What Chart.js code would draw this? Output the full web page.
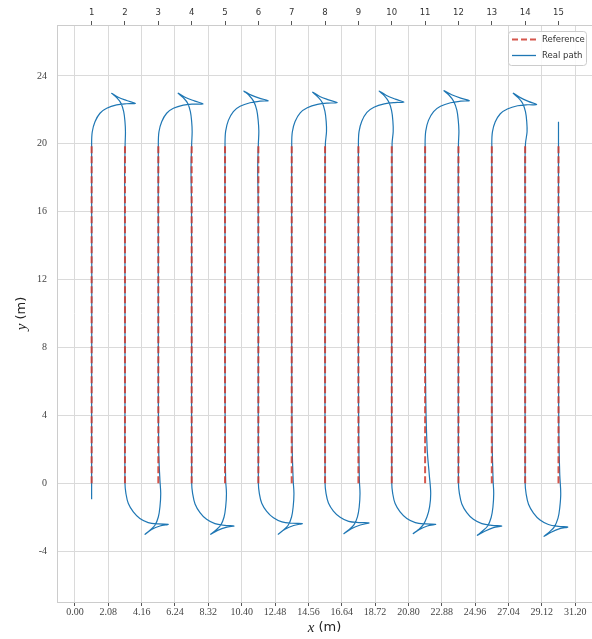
<!DOCTYPE html>
<html>
<head>
<meta charset="utf-8">
<script src="https://cdn.jsdelivr.net/npm/chart.js@4.4.1/dist/chart.umd.min.js"></script>
<style>
  html, body { margin: 0; padding: 0; background: #ffffff; }
  canvas { display: block; }
</style>
</head>
<body>
<canvas id="pathChart" width="592" height="639"></canvas>
<script>
// Row centre lines (m) and their numbers on the top axis
const rowX = [1.04, 3.12, 5.20, 7.28, 9.36, 11.44, 13.52, 15.60, 17.68, 19.76, 21.84, 23.92, 26.00, 28.08, 30.16];
const rowLabels = ['1', '2', '3', '4', '5', '6', '7', '8', '9', '10', '11', '12', '13', '14', '15'];
const refStartY = 0;
const refEndY = 20;

const xTicks = [0.00, 2.08, 4.16, 6.24, 8.32, 10.40, 12.48, 14.56, 16.64, 18.72, 20.80, 22.88, 24.96, 27.04, 29.12, 31.20];
const yTicks = [-4, 0, 4, 8, 12, 16, 20, 24];

// Driven path [x, y] in metres, one leg or headland turn per line
const realPath = [
    [1.04, -0.94], [1.04, 5], [1.05, 12], [1.04, 20],
    [1.08, 20.71], [1.25, 21.30], [1.56, 21.80], [1.98, 22.09], [2.60, 22.29], [3.22, 22.36], [3.77, 22.38],
    [3.22, 22.55], [2.70, 22.74], [2.29, 22.98],
    [2.60, 22.72], [2.87, 22.39], [3.04, 21.89], [3.12, 21.30], [3.15, 20.71], [3.13, 20.0],
    [3.10, 18.2], [3.11, 16.5], [3.12, 12], [3.12, 5], [3.12, 0],
    [3.18, -0.61], [3.33, -1.20], [3.64, -1.69], [4.05, -2.08], [4.57, -2.32], [5.20, -2.40], [5.82, -2.42],
    [5.30, -2.52], [4.78, -2.73], [4.37, -3.01],
    [4.68, -2.77], [4.99, -2.48], [5.20, -1.99], [5.30, -1.40], [5.35, -0.61], [5.30, 0.18], [5.22, 2.0], [5.20, 8],
    [5.20, 14], [5.20, 20],
    [5.24, 20.71], [5.41, 21.30], [5.72, 21.80], [6.14, 22.09], [6.76, 22.28], [7.40, 22.34], [8.00, 22.35],
    [7.44, 22.53], [6.90, 22.73], [6.44, 22.98],
    [6.75, 22.72], [7.03, 22.39], [7.20, 21.89], [7.28, 21.30], [7.31, 20.71], [7.28, 20.0],
    [7.24, 18.5], [7.27, 16.5], [7.28, 10], [7.28, 0],
    [7.34, -0.61], [7.49, -1.22], [7.80, -1.73], [8.21, -2.13], [8.73, -2.38], [9.34, -2.48], [9.92, -2.52],
    [9.42, -2.60], [8.90, -2.78], [8.47, -3.01],
    [8.78, -2.77], [9.09, -2.48], [9.30, -1.99], [9.40, -1.40], [9.45, -0.61], [9.40, 0.18], [9.37, 2.5], [9.36, 8],
    [9.36, 14], [9.36, 20],
    [9.40, 20.75], [9.57, 21.38], [9.88, 21.90], [10.30, 22.21], [10.92, 22.42], [11.54, 22.51], [12.06, 22.54],
    [11.54, 22.68], [11.00, 22.87], [10.54, 23.11],
    [10.86, 22.85], [11.15, 22.50], [11.34, 21.98], [11.43, 21.36], [11.47, 20.74], [11.44, 20.0],
    [11.40, 18.5], [11.43, 16.5], [11.44, 10], [11.44, 0],
    [11.50, -0.60], [11.65, -1.18], [11.96, -1.66], [12.38, -2.04], [12.91, -2.28], [13.55, -2.36], [14.18, -2.38],
    [13.64, -2.49], [13.10, -2.71], [12.68, -3.01],
    [12.99, -2.77], [13.30, -2.48], [13.51, -1.99], [13.61, -1.40], [13.66, -0.61], [13.61, 0.18], [13.54, 2.5], [13.52, 8],
    [13.52, 14], [13.52, 20],
    [13.56, 20.71], [13.73, 21.31], [14.05, 21.82], [14.49, 22.12], [15.13, 22.32], [15.78, 22.40], [16.36, 22.42],
    [15.82, 22.59], [15.27, 22.79], [14.83, 23.04],
    [15.14, 22.77], [15.42, 22.43], [15.59, 21.92], [15.67, 21.32], [15.69, 20.72], [15.62, 20.0],
    [15.59, 17], [15.60, 10], [15.60, 0],
    [15.66, -0.60], [15.81, -1.17], [16.12, -1.64], [16.54, -2.01], [17.07, -2.25], [17.71, -2.32], [18.34, -2.34],
    [17.80, -2.46], [17.24, -2.68], [16.78, -2.97],
    [17.09, -2.74], [17.40, -2.46], [17.62, -1.98], [17.73, -1.40], [17.78, -0.61], [17.74, 0.18], [17.70, 2.5], [17.68, 8],
    [17.68, 14], [17.68, 20],
    [17.72, 20.72], [17.89, 21.33], [18.21, 21.85], [18.65, 22.15], [19.29, 22.35], [19.94, 22.43], [20.52, 22.45],
    [19.98, 22.63], [19.43, 22.85], [18.98, 23.11],
    [19.29, 22.84], [19.57, 22.48], [19.75, 21.96], [19.83, 21.34], [19.85, 20.73], [19.78, 20.0],
    [19.78, 17], [19.76, 10], [19.76, 0],
    [19.82, -0.61], [19.97, -1.20], [20.28, -1.69], [20.70, -2.08], [21.23, -2.32], [21.87, -2.40], [22.50, -2.42],
    [21.98, -2.52], [21.49, -2.72], [21.10, -2.97],
    [21.41, -2.74], [21.72, -2.46], [21.96, -1.98], [22.12, -1.40], [22.19, -0.61], [22.10, 0.5], [21.97, 2.0], [21.88, 5], [21.84, 10],
    [21.84, 20],
    [21.88, 20.75], [22.05, 21.38], [22.37, 21.90], [22.80, 22.21], [23.43, 22.42], [24.06, 22.51], [24.60, 22.54],
    [24.06, 22.69], [23.50, 22.89], [23.02, 23.13],
    [23.34, 22.86], [23.62, 22.51], [23.82, 21.98], [23.91, 21.36], [23.95, 20.74], [23.92, 20.0],
    [23.91, 17], [23.92, 10], [23.92, 0],
    [23.98, -0.61], [24.13, -1.22], [24.44, -1.73], [24.85, -2.13], [25.38, -2.38], [26.00, -2.48], [26.62, -2.52],
    [26.10, -2.62], [25.56, -2.83], [25.10, -3.07],
    [25.42, -2.82], [25.74, -2.52], [25.96, -2.02], [26.07, -1.42], [26.12, -0.61], [26.08, 0.18], [26.02, 2.5], [26.00, 8],
    [26.00, 14], [26.00, 20],
    [26.04, 20.70], [26.21, 21.28], [26.53, 21.77], [26.97, 22.05], [27.61, 22.24], [28.24, 22.30], [28.80, 22.31],
    [28.28, 22.50], [27.78, 22.72], [27.34, 22.98],
    [27.64, 22.72], [27.92, 22.39], [28.10, 21.89], [28.18, 21.30], [28.20, 20.71], [28.10, 20.0],
    [28.07, 18.5], [28.08, 16], [28.08, 0],
    [28.14, -0.62], [28.29, -1.24], [28.60, -1.76], [29.01, -2.17], [29.53, -2.43], [30.15, -2.54], [30.74, -2.58],
    [30.24, -2.68], [29.70, -2.89], [29.26, -3.13],
    [29.58, -2.88], [29.90, -2.57], [30.13, -2.06], [30.24, -1.44], [30.30, -0.61], [30.24, 0.5], [30.18, 3], [30.16, 8],
    [30.16, 14], [30.16, 21.3]
];

const REF_COLOR = 'rgba(207, 58, 46, 0.85)';
const PATH_COLOR = '#1f77b4';
const GRID_COLOR = '#dadada';
const FRAME_COLOR = '#cccccc';
const serifFont = { family: '"Liberation Serif", "DejaVu Serif", serif', size: 10 };
const sansFont = { family: '"DejaVu Sans", sans-serif', size: 8.5 };

// one dashed segment per row, separated by gaps
let refData = [];
for (let x of rowX) {
    refData.push({ x: x, y: refStartY }, { x: x, y: refEndY }, { x: x, y: null });
}
const pathData = realPath.map(p => ({ x: p[0], y: p[1] }));

function drawAxisTitle(ctx, variable, unit, cx, cy, angle) {
    ctx.save();
    ctx.translate(cx, cy);
    ctx.rotate(angle);
    ctx.fillStyle = '#222222';
    ctx.textBaseline = 'middle';
    ctx.textAlign = 'left';
    const varFont = 'italic 15px "Liberation Serif", "DejaVu Serif", serif';
    const unitFont = '13px "DejaVu Sans", sans-serif';
    ctx.font = varFont;
    const w1 = ctx.measureText(variable).width;
    ctx.font = unitFont;
    const w2 = ctx.measureText(unit).width;
    let start = -(w1 + w2) / 2;
    ctx.font = varFont;
    ctx.fillText(variable, start, 0);
    ctx.font = unitFont;
    ctx.fillText(unit, start + w1, 0);
    ctx.restore();
}

const decorations = {
    id: 'decorations',
    afterDraw(chart) {
        const ctx = chart.ctx;
        const area = chart.chartArea;

        drawAxisTitle(ctx, 'x', ' (m)', (area.left + area.right) / 2, 628, 0);
        drawAxisTitle(ctx, 'y', ' (m)', 22, (area.top + area.bottom) / 2, -Math.PI / 2);

        // legend box in the upper right corner
        ctx.save();
        ctx.beginPath();
        ctx.roundRect(508.5, 31.5, 78, 34, 3);
        ctx.fillStyle = 'rgba(255,255,255,0.85)';
        ctx.fill();
        ctx.strokeStyle = FRAME_COLOR;
        ctx.lineWidth = 1;
        ctx.stroke();

        ctx.lineWidth = 2;
        ctx.strokeStyle = REF_COLOR;
        ctx.setLineDash([6, 3]);
        ctx.beginPath();
        ctx.moveTo(512, 39.5);
        ctx.lineTo(536, 39.5);
        ctx.stroke();

        ctx.setLineDash([]);
        ctx.lineWidth = 1.3;
        ctx.strokeStyle = PATH_COLOR;
        ctx.beginPath();
        ctx.moveTo(512, 55.5);
        ctx.lineTo(536, 55.5);
        ctx.stroke();

        ctx.fillStyle = '#333333';
        ctx.font = '8.5px "DejaVu Sans", sans-serif';
        ctx.textBaseline = 'middle';
        ctx.fillText('Reference', 542, 39.5);
        ctx.fillText('Real path', 542, 55.5);
        ctx.restore();
    }
};

new Chart(document.getElementById('pathChart'), {
    type: 'scatter',
    data: {
        datasets: [
            {
                label: 'Reference',
                data: refData,
                showLine: true,
                spanGaps: false,
                borderColor: REF_COLOR,
                borderWidth: 2,
                borderDash: [7, 3],
                pointRadius: 0,
            },
            {
                label: 'Real path',
                data: pathData,
                showLine: true,
                borderColor: PATH_COLOR,
                borderWidth: 1.2,
                tension: 0.35,
                pointRadius: 0,
            }
        ]
    },
    options: {
        responsive: false,
        animation: false,
        layout: { padding: 0 },
        plugins: {
            legend: { display: false },
            tooltip: { enabled: false },
        },
        scales: {
            x: {
                type: 'linear',
                position: 'bottom',
                min: -1.12,
                max: 32.25,
                afterBuildTicks: scale => { scale.ticks = xTicks.map(v => ({ value: v })); },
                afterFit: scale => { scale.height = 37; },
                ticks: {
                    autoSkip: false,
                    maxRotation: 0,
                    padding: 0,
                    color: '#444444',
                    font: serifFont,
                    callback: value => value.toFixed(2),
                },
                grid: { color: GRID_COLOR, lineWidth: 1, tickLength: 4, tickColor: '#555555' },
                border: { color: FRAME_COLOR },
            },
            x2: {
                type: 'linear',
                position: 'top',
                min: -1.12,
                max: 32.25,
                afterBuildTicks: scale => { scale.ticks = rowX.map(v => ({ value: v })); },
                afterFit: scale => { scale.height = 25; },
                ticks: {
                    autoSkip: false,
                    maxRotation: 0,
                    padding: 3,
                    color: '#333333',
                    font: sansFont,
                    callback: (value, index) => rowLabels[index],
                },
                grid: { drawOnChartArea: false, tickLength: 4, tickColor: '#555555' },
                border: { color: FRAME_COLOR },
            },
            y: {
                type: 'linear',
                position: 'left',
                min: -7,
                max: 27,
                afterBuildTicks: scale => { scale.ticks = yTicks.map(v => ({ value: v })); },
                afterFit: scale => { scale.width = 57; },
                ticks: {
                    padding: 10,
                    color: '#444444',
                    font: serifFont,
                },
                grid: { color: GRID_COLOR, lineWidth: 1, drawTicks: false },
                border: { color: FRAME_COLOR },
            }
        }
    },
    plugins: [decorations]
});
</script>
</body>
</html>
